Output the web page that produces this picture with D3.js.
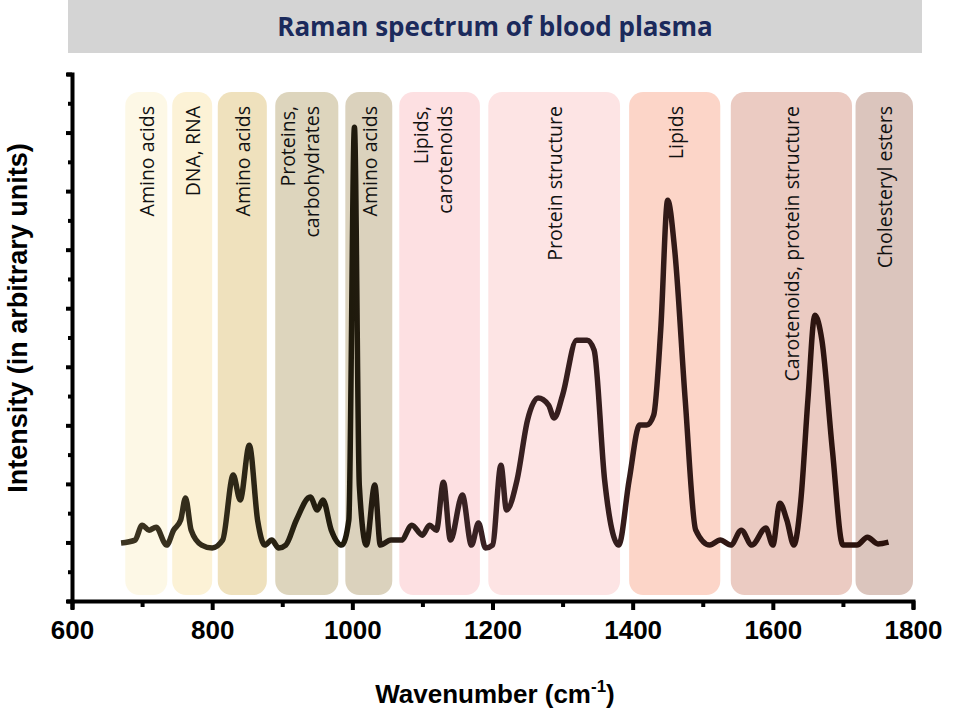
<!DOCTYPE html>
<html><head><meta charset="utf-8">
<script src="https://cdn.jsdelivr.net/npm/d3@7"></script>
<style>body{margin:0;background:#fff}</style>
</head><body><svg id="chart"></svg>
<script>
const width = 960, height = 714;

// wavenumber / intensity pairs
const wavenumbers = [670,690,700,710,720,735,745,755,762,770,785,800,815,830,840,853,865,875,885,895,905,920,940,950,958,970,985,995,1003,1010,1020,1032,1040,1055,1070,1085,1100,1110,1120,1130,1140,1157,1170,1180,1190,1200,1212,1220,1235,1250,1265,1280,1288,1300,1320,1335,1345,1360,1380,1395,1410,1420,1430,1440,1450,1460,1475,1490,1510,1525,1540,1555,1570,1590,1600,1610,1620,1630,1640,1650,1660,1670,1685,1700,1720,1735,1750,1765];
const intensity = [1.98,2.08,2.59,2.42,2.52,1.91,2.42,2.76,3.52,2.42,1.91,1.81,2.08,4.3,3.45,5.32,2.73,1.91,2.08,1.81,1.91,2.76,3.55,3.11,3.45,2.42,1.91,2.76,16.18,3.93,1.91,3.96,1.91,2.08,2.08,2.59,2.25,2.59,2.42,4.06,2.08,3.62,1.91,2.66,1.81,1.91,4.64,3.11,4.13,6.18,6.93,6.69,6.25,7.03,8.91,8.91,8.57,4.13,1.91,4.13,6.01,6.01,6.35,9.25,13.69,11.98,6.86,2.42,1.91,2.08,1.91,2.42,1.91,2.49,1.91,3.34,2.76,1.91,3.45,6.86,9.76,8.91,5.15,1.91,1.91,2.18,1.95,2.01];

const bandNames = [["Amino acids"],["DNA, RNA"],["Amino acids"],["Proteins,","carbohydrates"],["Amino acids"],["Lipids,","carotenoids"],["Protein structure"],["Lipids"],["Carotenoids, protein structure"],["Cholesteryl esters"]];
const bandStart = [676,743,808,890,990,1067,1194,1395,1540,1718];
const bandEnd   = [736,800,878,980,1057,1182,1382,1525,1713,1800];
const bandColors = ["#fdf8e6","#fcf2d6","#efe1bd","#ddd5bd","#dbd2bd","#fde0e2","#fde4e4","#fcd5c8","#ebcbc2","#dbc5bd"];

const xTicks = [600,800,1000,1200,1400,1600,1800];

const svg = d3.select('#chart').attr('width', width).attr('height', height);
const x = d3.scaleLinear().domain([600,1800]).range([72,913]);
const y = d3.scaleLinear().domain([0,18]).range([601,74]);

// title bar
svg.append('rect').attr('x',68).attr('y',0).attr('width',854).attr('height',53).attr('fill','#d4d4d4');
svg.append('text').attr('x',495).attr('y',36).attr('text-anchor','middle')
  .style('font-family','Open Sans, Noto Sans, sans-serif').style('font-weight','bold').style('font-size','26px')
  .attr('fill','#1b2a5c').text('Raman spectrum of blood plasma');

// bands
const bands = bandNames.map((n,i) => ({n, s: bandStart[i], e: bandEnd[i], c: bandColors[i]}));
svg.selectAll('.band').data(bands).enter().append('rect')
  .attr('class','band')
  .attr('x', d => x(d.s)).attr('width', d => x(d.e) - x(d.s))
  .attr('y', 92).attr('height', 503).attr('rx', 14)
  .attr('fill', d => d.c);

const lab = svg.selectAll('.blab').data(bands).enter().append('text')
  .attr('class','blab')
  .attr('transform', d => `translate(${(x(d.s)+x(d.e))/2 + (d.n.length>1 ? -12 : 8)},106) rotate(-90)`)
  .attr('text-anchor','end')
  .style('font-family','Open Sans, Noto Sans, sans-serif').style('font-size','19.5px').attr('fill','#111');
lab.selectAll('tspan').data(d => d.n).enter().append('tspan')
  .attr('x',0).attr('dy',(t,i) => i === 0 ? 0 : 24).text(t => t);

// spectrum
const grad = svg.append('defs').append('linearGradient').attr('id','lg')
  .attr('gradientUnits','userSpaceOnUse').attr('x1',x(670)).attr('x2',x(1765)).attr('y1',0).attr('y2',0);
grad.append('stop').attr('offset','0%').attr('stop-color','#3d3522');
grad.append('stop').attr('offset','30%').attr('stop-color','#1f1a0c');
grad.append('stop').attr('offset','45%').attr('stop-color','#3a2224');
grad.append('stop').attr('offset','100%').attr('stop-color','#2a120c');

const line = d3.line().x(d => x(d[0])).y(d => y(d[1])).curve(d3.curveMonotoneX);
svg.append('path').datum(wavenumbers.map((w,i) => [w, intensity[i]]))
  .attr('d', line).attr('fill','none').attr('stroke','url(#lg)')
  .attr('stroke-width',5.5).attr('stroke-linejoin','round');

// axes
const xAxis = svg.append('g').attr('transform','translate(0,601)')
  .call(d3.axisBottom(x).tickValues(d3.range(600,1801,100)).tickSize(8).tickFormat(d => xTicks.includes(d) ? d : ''));
const yAxis = svg.append('g').attr('transform','translate(72,0)')
  .call(d3.axisLeft(y).ticks(18).tickSize(5).tickFormat(''));
[xAxis, yAxis].forEach(a => {
  a.select('.domain').attr('stroke','#000').attr('stroke-width',4);
  a.selectAll('.tick line').attr('stroke','#000').attr('stroke-width',4);
});
xAxis.selectAll('.tick line').attr('y2', d => xTicks.includes(d) ? 9 : 6);
yAxis.selectAll('.tick line').attr('x2', d => d % 2 === 0 ? -6 : -4);
xAxis.selectAll('text').attr('y',20)
  .style('font-family','Liberation Sans, Arial, sans-serif').style('font-weight','bold').style('font-size','26px').attr('fill','#000');

svg.append('text').attr('x',495).attr('y',703).attr('text-anchor','middle')
  .style('font-family','Liberation Sans, Arial, sans-serif').style('font-weight','bold').style('font-size','26px')
  .html('Wavenumber (cm<tspan dy="-11" font-size="17px">-1</tspan><tspan dy="11">)</tspan>');
svg.append('text').attr('transform','translate(27,318) rotate(-90)').attr('text-anchor','middle')
  .style('font-family','Liberation Sans, Arial, sans-serif').style('font-weight','bold').style('font-size','27px')
  .text('Intensity (in arbitrary units)');
</script></body></html>
